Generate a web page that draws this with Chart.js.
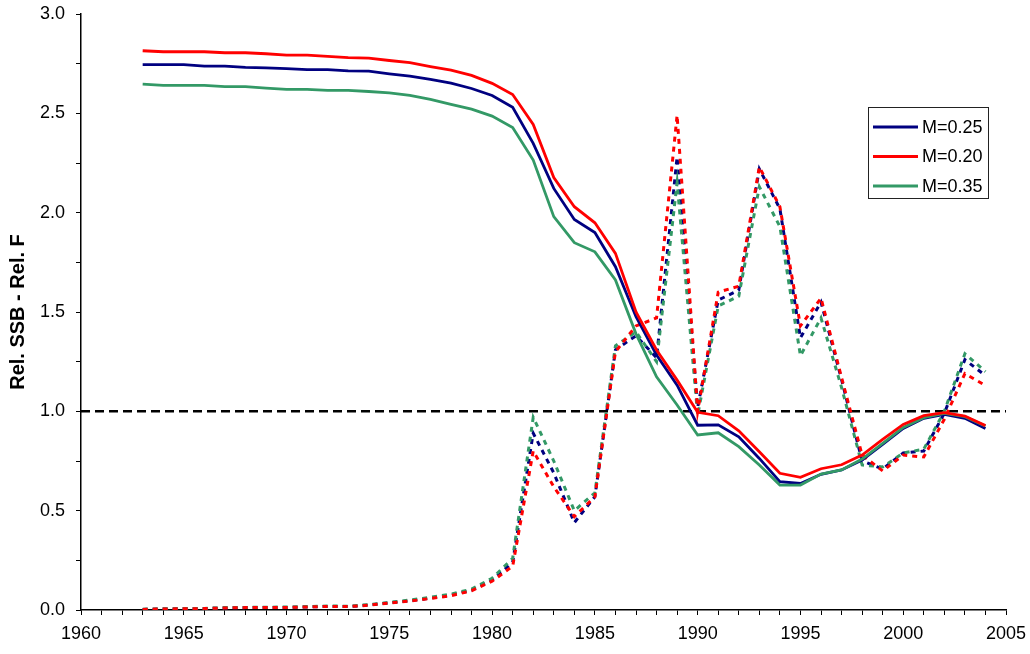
<!DOCTYPE html>
<html>
<head>
<meta charset="utf-8">
<script src="https://cdn.jsdelivr.net/npm/chart.js@4.4.1/dist/chart.umd.min.js"></script>
<style>
  html, body { margin: 0; padding: 0; background: #fff; }
  #wrap { width: 1030px; height: 654px; position: relative; }
</style>
</head>
<body>
<div id="wrap"><canvas id="myChart"></canvas></div>
<script>
// years of the assessment
const years = [1963, 1964, 1965, 1966, 1967, 1968, 1969, 1970, 1971, 1972, 1973, 1974, 1975, 1976,
  1977, 1978, 1979, 1980, 1981, 1982, 1983, 1984, 1985, 1986, 1987, 1988, 1989, 1990, 1991,
  1992, 1993, 1994, 1995, 1996, 1997, 1998, 1999, 2000, 2001, 2002, 2003, 2004]

// Relative SSB (solid lines)
const ssbM025 = [2.745, 2.745, 2.745, 2.738, 2.738, 2.731, 2.729, 2.725, 2.72, 2.72, 2.714, 2.712, 2.699, 2.687,
  2.671, 2.652, 2.625, 2.59, 2.53, 2.349, 2.122, 1.966, 1.90, 1.728, 1.476, 1.283, 1.132, 0.93, 0.932,
  0.872, 0.763, 0.646, 0.637, 0.683, 0.705, 0.755, 0.834, 0.914, 0.965, 0.985, 0.965, 0.914]
const ssbM020 = [2.815, 2.81, 2.81, 2.81, 2.805, 2.805, 2.80, 2.793, 2.793, 2.787, 2.78, 2.778, 2.766, 2.755,
  2.735, 2.717, 2.691, 2.651, 2.595, 2.444, 2.177, 2.03, 1.949, 1.795, 1.50, 1.309, 1.157, 0.995, 0.978,
  0.902, 0.797, 0.688, 0.668, 0.711, 0.731, 0.780, 0.859, 0.934, 0.978, 0.993, 0.976, 0.928]
const ssbM035 = [2.647, 2.641, 2.641, 2.641, 2.634, 2.634, 2.627, 2.621, 2.621, 2.616, 2.616, 2.61, 2.603, 2.59,
  2.57, 2.545, 2.521, 2.486, 2.429, 2.265, 1.98, 1.849, 1.803, 1.661, 1.39, 1.174, 1.032, 0.881, 0.892,
  0.822, 0.73, 0.629, 0.629, 0.684, 0.705, 0.76, 0.839, 0.919, 0.968, 0.99, 0.973, 0.926]

// Relative F (dotted lines)
const fM025 = [0.003, 0.005, 0.006, 0.007, 0.01, 0.012, 0.013, 0.013, 0.015, 0.018, 0.017, 0.025, 0.036, 0.046,
  0.06, 0.075, 0.10, 0.15, 0.24, 0.89, 0.69, 0.44, 0.57, 1.31, 1.38, 1.27, 2.28, 1.02, 1.56,
  1.61, 2.22, 2.02, 1.37, 1.55, 1.16, 0.75, 0.71, 0.79, 0.80, 0.99, 1.26, 1.18]
const fM020 = [0.003, 0.005, 0.006, 0.007, 0.01, 0.012, 0.013, 0.013, 0.015, 0.018, 0.017, 0.024, 0.035, 0.045,
  0.058, 0.072, 0.097, 0.145, 0.22, 0.80, 0.62, 0.47, 0.57, 1.30, 1.43, 1.47, 2.49, 1.00, 1.60,
  1.63, 2.23, 2.03, 1.43, 1.57, 1.17, 0.78, 0.70, 0.78, 0.77, 0.96, 1.19, 1.13]
const fM035 = [0.004, 0.006, 0.007, 0.008, 0.012, 0.013, 0.014, 0.015, 0.017, 0.02, 0.019, 0.027, 0.038, 0.05,
  0.064, 0.08, 0.105, 0.16, 0.26, 0.97, 0.75, 0.50, 0.59, 1.33, 1.40, 1.25, 2.15, 0.98, 1.53,
  1.58, 2.13, 1.93, 1.28, 1.47, 1.12, 0.73, 0.72, 0.79, 0.81, 1.00, 1.29, 1.20]

// reference level
const refYears = [1960, 2005]
const refLevel = [1.0, 1.0]

const legendNames = ['M=0.25', 'M=0.20', 'M=0.35']

const NAVY = '#000080'
const RED = '#FF0000'
const GREEN = '#339966'
const FONT = '"Liberation Sans", Arial, sans-serif'

function toPoints(xs, ys) {
  let pts = []
  for (let i = 0; i < xs.length; i++) {
    pts.push({ x: xs[i], y: ys[i] })
  }
  return pts
}

function solid(data, color, order) {
  return { data: toPoints(years, data), borderColor: color, borderWidth: 2.8, pointRadius: 0, tension: 0, order: order }
}

function dotted(data, color, order) {
  return { data: toPoints(years, data), borderColor: color, borderWidth: 3, borderDash: [5, 5], pointRadius: 0, tension: 0, order: order }
}

// draws the boxed legend in the upper right
const boxLegend = {
  id: 'boxLegend',
  afterDraw(chart) {
    const ctx = chart.ctx
    const colors = [NAVY, RED, GREEN]
    ctx.save()
    ctx.fillStyle = '#fff'
    ctx.fillRect(868, 107, 121, 92)
    ctx.strokeStyle = '#222'
    ctx.lineWidth = 1
    ctx.strokeRect(868.5, 107.5, 120, 91)
    ctx.font = '18px ' + FONT
    ctx.textBaseline = 'middle'
    for (let i = 0; i < legendNames.length; i++) {
      const y = 127 + i * 29.5
      ctx.strokeStyle = colors[i]
      ctx.lineWidth = 3
      ctx.beginPath()
      ctx.moveTo(873, y)
      ctx.lineTo(918, y)
      ctx.stroke()
      ctx.fillStyle = '#000'
      ctx.fillText(legendNames[i], 922, y + 1)
    }
    ctx.restore()
  }
}

const ctx = document.getElementById('myChart')
new Chart(ctx, {
  type: 'line',
  data: {
    datasets: [
      { data: toPoints(refYears, refLevel), borderColor: '#000', borderWidth: 2.5, borderDash: [9, 5], pointRadius: 0, order: 7 },
      dotted(fM025, NAVY, 5),
      dotted(fM035, GREEN, 4),
      dotted(fM020, RED, 3),
      solid(ssbM025, NAVY, 2),
      solid(ssbM035, GREEN, 1),
      solid(ssbM020, RED, 0)
    ]
  },
  options: {
    responsive: true,
    maintainAspectRatio: false,
    devicePixelRatio: 1,
    animation: false,
    layout: { padding: { top: 14, right: 24, bottom: 0, left: 0 } },
    plugins: { legend: { display: false }, tooltip: { enabled: false } },
    scales: {
      x: {
        type: 'linear',
        min: 1960,
        max: 2005,
        afterFit(scale) {
          scale.height = 44
          scale.paddingLeft = 0
          scale.paddingRight = 0
        },
        ticks: {
          stepSize: 1,
          autoSkip: false,
          maxRotation: 0,
          padding: 8,
          color: '#000',
          font: { family: FONT, size: 18 },
          callback: (v) => (v % 5 === 0 ? String(v) : '')
        },
        grid: { drawOnChartArea: false, tickLength: 5, color: '#000' },
        border: { color: '#000', width: 1.5 }
      },
      y: {
        min: 0,
        max: 3,
        afterFit(scale) {
          scale.width = 81
          scale.paddingTop = 0
          scale.paddingBottom = 0
        },
        ticks: {
          stepSize: 0.25,
          padding: 11,
          color: '#000',
          font: { family: FONT, size: 18 },
          callback: (v) => (Math.abs(v * 2 - Math.round(v * 2)) < 1e-9 ? v.toFixed(1) : '')
        },
        grid: { drawOnChartArea: false, tickLength: 5, color: '#000' },
        border: { color: '#000', width: 1.5 },
        title: {
          display: true,
          text: 'Rel. SSB - Rel. F',
          color: '#000',
          font: { family: FONT, size: 20, weight: 'bold' },
          padding: { top: 6, bottom: 0 }
        }
      }
    }
  },
  plugins: [boxLegend]
})
</script>
</body>
</html>
